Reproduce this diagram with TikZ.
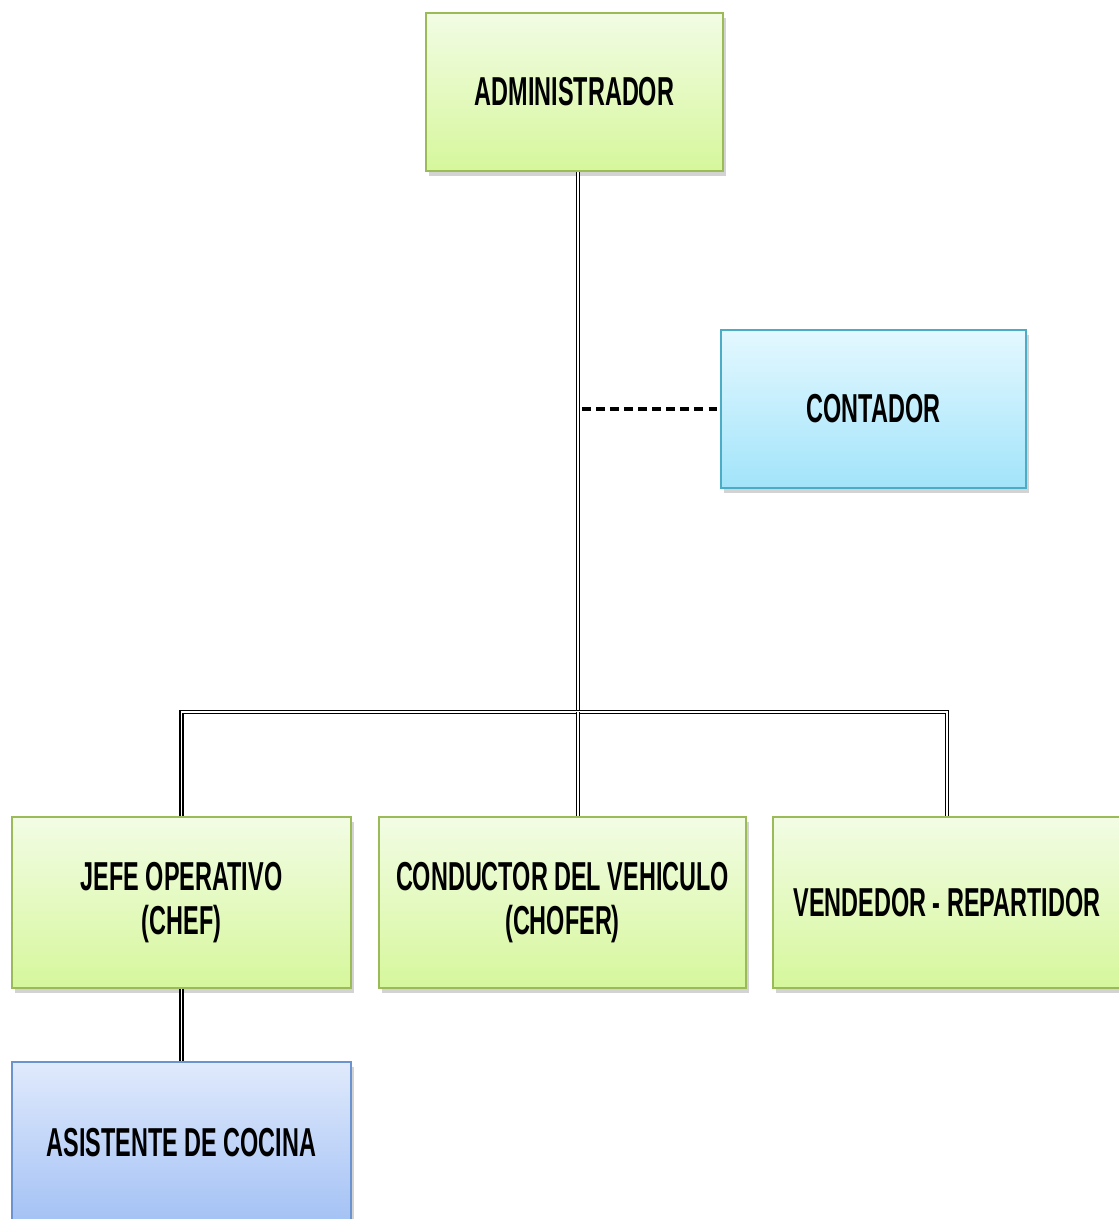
\documentclass[tikz,border=0pt]{standalone}
\usepackage{fontspec}
\usepackage{tikz}
\usetikzlibrary{shadows,positioning,calc}
\newfontfamily\orgfont[FakeStretch=0.58]{Liberation Sans}
\definecolor{greentop}{HTML}{F2FCE4}
\definecolor{greenbot}{HTML}{D6F79C}
\definecolor{greenline}{HTML}{9BBB59}
\definecolor{cyantop}{HTML}{E4F8FF}
\definecolor{cyanbot}{HTML}{A2E4FA}
\definecolor{cyanline}{HTML}{4BACC6}
\definecolor{bluetop}{HTML}{E0EAFC}
\definecolor{bluebot}{HTML}{A3C1F5}
\definecolor{blueline}{HTML}{6A93CF}

\tikzset{
    post/.style={draw, line width=0.9pt, align=center, inner sep=2pt,
        font=\orgfont\bfseries\fontsize{23}{25}\selectfont,
        drop shadow={shadow xshift=0.6mm, shadow yshift=-0.9mm, opacity=0.35}},
    greenpost/.style={post, draw=greenline, top color=greentop, bottom color=greenbot},
    cyanpost/.style={post, draw=cyanline, top color=cyantop, bottom color=cyanbot},
    bluepost/.style={post, draw=blueline, top color=bluetop, bottom color=bluebot},
    link/.style={draw=black, line width=0.8pt, double=white, double distance=1pt},
    staff/.style={draw=black, line width=2.4pt, dash pattern=on 5pt off 3pt}
}

\begin{document}
\begin{tikzpicture}
    \useasboundingbox (0,0) rectangle (22.36,-24.38);

    \node[greenpost, minimum width=5.94cm, minimum height=3.16cm] (admin) at (11.49,-1.84) {ADMINISTRADOR};
    \node[cyanpost, minimum width=6.10cm, minimum height=3.16cm] (contador) at (17.47,-8.18) {CONTADOR};
    \node[greenpost, minimum width=6.78cm, minimum height=3.42cm] (jefe) at (3.63,-18.05) {JEFE OPERATIVO\\(CHEF)};
    \node[greenpost, minimum width=7.34cm, minimum height=3.42cm] (chofer) at (11.25,-18.05) {CONDUCTOR DEL VEHICULO\\(CHOFER)};
    \node[greenpost, minimum width=6.96cm, minimum height=3.42cm] (vendedor) at (18.94,-18.05) {VENDEDOR - REPARTIDOR};
    \node[bluepost, minimum width=6.78cm, minimum height=3.24cm] (asistente) at (3.63,-22.86) {ASISTENTE DE COCINA};

    \coordinate (hub) at (11.56,-14.24);

    % lineas de mando
    \draw[link] (admin.south -| hub) -- (hub);
    \draw[link] (jefe.north) |- (hub) -| (vendedor.north);
    \draw[link] (hub) -- (chofer.north -| hub);
    \draw[link] (jefe.south) -- (asistente.north);
    \draw[staff] ($(hub |- contador.west)+(0.08,0)$) -- (contador.west);
\end{tikzpicture}
\end{document}
